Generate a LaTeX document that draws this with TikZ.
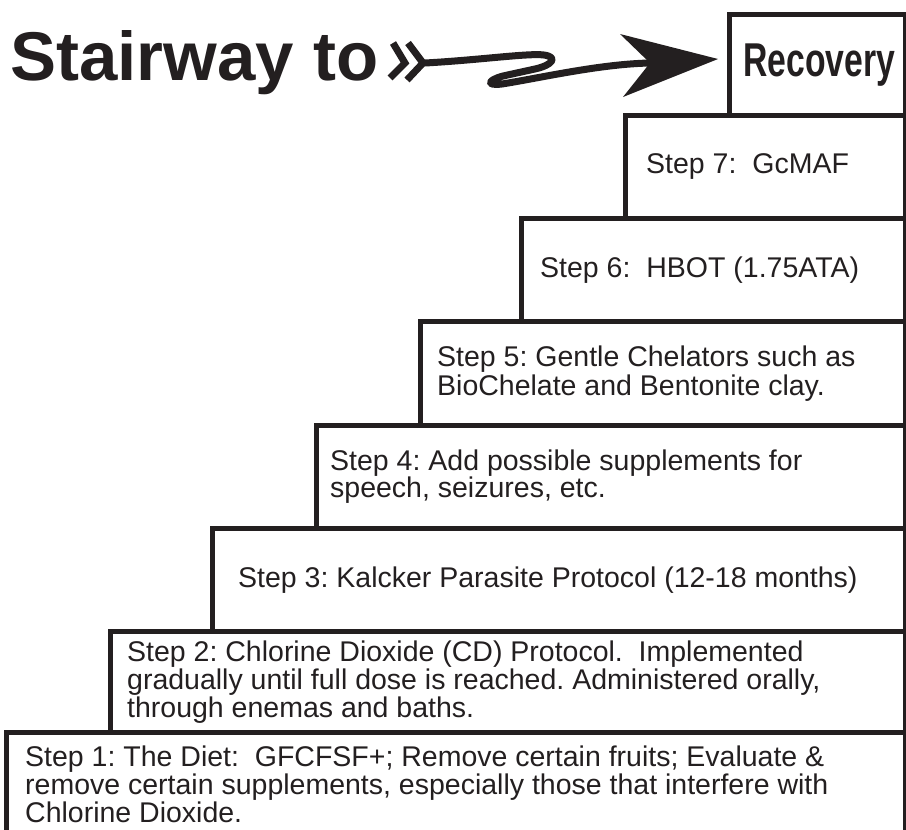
\documentclass[tikz,border=0pt]{standalone}
\usepackage{fontspec}
\setmainfont{Liberation Sans}
\newfontfamily\recfont[FakeStretch=0.71]{Liberation Sans}
\definecolor{ink}{HTML}{231F20}
\frenchspacing
\begin{document}
\begin{tikzpicture}[x=1pt,y=-1pt,
  stepbox/.style={draw=ink, line width=4.5pt, inner sep=0pt, anchor=north west},
  steptext/.style={anchor=west, inner sep=0pt, align=left, text=ink},
  ink line/.style={draw=ink, line width=7pt}]
\useasboundingbox (0,0) rectangle (906,830);
% boxes
\node[stepbox, minimum width=176pt, minimum height=101pt] (rec) at (727,12) {};
\node[stepbox, minimum width=280pt, minimum height=103pt] (box7) at (623,113) {};
\node[stepbox, minimum width=384pt, minimum height=103pt] (box6) at (519,216) {};
\node[stepbox, minimum width=485pt, minimum height=104pt] (box5) at (418,319) {};
\node[stepbox, minimum width=589pt, minimum height=103pt] (box4) at (314,423) {};
\node[stepbox, minimum width=693pt, minimum height=103pt] (box3) at (210,526) {};
\node[stepbox, minimum width=795pt, minimum height=101pt] (box2) at (108,629) {};
\node[stepbox, minimum width=899pt, minimum height=104pt] (box1) at (4,730) {};
% texts
\node[steptext, font=\fontsize{28.5}{28}\selectfont, xshift=23pt] (t7) at (box7.west) {Step 7:~ GcMAF};
\node[steptext, font=\fontsize{28.5}{28}\selectfont, xshift=21pt] (t6) at (box6.west) {Step 6:~ HBOT (1.75ATA)};
\node[steptext, font=\fontsize{28.5}{29}\selectfont, xshift=19pt] (t5) at (box5.west) {Step 5: Gentle Chelators such as\\BioChelate and Bentonite clay.};
\node[steptext, font=\fontsize{28.5}{26}\selectfont, xshift=16pt] (t4) at (box4.west) {Step 4: Add possible supplements for\\speech, seizures, etc.};
\node[steptext, font=\fontsize{28.5}{28}\selectfont, xshift=28pt] (t3) at (box3.west) {Step 3: Kalcker Parasite Protocol (12-18 months)};
\node[steptext, font=\fontsize{28.5}{28}\selectfont, xshift=19pt] (t2) at (box2.west) {Step 2: Chlorine Dioxide (CD) Protocol.~ Implemented\\gradually until full dose is reached. Administered orally,\\through enemas and baths.};
\node[steptext, font=\fontsize{28.5}{25.5}\selectfont, xshift=21pt] (t1) at (box1.west) {Step 1: The Diet:~ GFCFSF+; Remove certain fruits; Evaluate \&\\remove certain supplements, especially those that interfere with\\Chlorine Dioxide.};
% title
\node[anchor=base west, inner sep=0pt, text=ink, font=\fontsize{69}{69}\selectfont\bfseries] (title) at (10,80) {Stairway to};
\node[anchor=base west, inner sep=0pt, text=ink, font=\fontsize{47.5}{47.5}\selectfont\recfont\bfseries] (rectext) at (743,76) {Recovery};
% arrow
\coordinate (tail) at (425,63);
\coordinate (notch) at (650,63);
\coordinate (tip) at (718,59);
\coordinate (htop) at (620,34);
\coordinate (hbot) at (623,97);
\draw[ink line, line join=miter] (393,43) -- (405,63) -- (390,78);
\draw[ink line, line join=miter] (408,43) -- (423,63) -- (407,80);
\draw[ink line, line join=round, line cap=butt] (tail) .. controls (480,60) and (528,53) .. (544,55) .. controls (558,57) and (553,65) .. (535,69) -- (503,76) .. controls (488,80) and (485,86) .. (502,84) .. controls (540,78) and (600,64) .. (notch);
\fill[ink] (tip) -- (htop) -- (notch) -- (hbot) -- cycle;
\end{tikzpicture}
\end{document}
